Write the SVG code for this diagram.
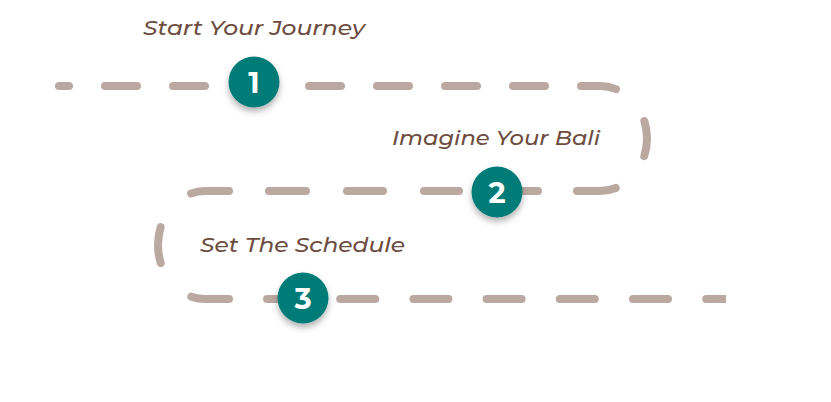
<svg xmlns="http://www.w3.org/2000/svg" width="831" height="402" viewBox="0 0 831 402">
<style>
.path{fill:none;stroke:#BBA9A1;stroke-width:8;stroke-linecap:round}
.lbl{font-family:"Montserrat","Noto Sans","Open Sans",sans-serif;font-style:italic;font-weight:500;font-size:20px;fill:#6E4D41}
.badge{fill:#007B78}
.num{font-family:"Montserrat","Open Sans","Noto Sans",sans-serif;font-weight:700;font-size:29px;fill:#fff;text-anchor:middle}
</style>
<defs>
<filter id="sh" x="-50%" y="-50%" width="200%" height="200%">
<feDropShadow dx="0" dy="4" stdDeviation="3" flood-color="#000" flood-opacity="0.3"/>
</filter>
<clipPath id="cl"><rect x="50" y="0" width="676" height="402"/></clipPath>
</defs>
<g id="connectors" clip-path="url(#cl)">
<path class="path" stroke-dasharray="32 36" stroke-dashoffset="22" d="M59,86 H575"/>
<path class="path" stroke-dasharray="35.4 44 35.6 44 39.4 100" d="M581,86 H600 A47,52.5 0 0 1 600,191 H577"/>
<path class="path" stroke-dasharray="37 42 35 41 36 41 37 40 38.3 46.85 36.54 46.85 38.3 100" d="M538,191 H205 A47,54 0 0 0 205,299 H229"/>
<path class="path" stroke-dasharray="35 38.2" d="M267,299 H745"/>
</g>
<g id="step1">
<text class="lbl" x="143" y="35" textLength="222" lengthAdjust="spacingAndGlyphs">Start Your Journey</text>
<circle class="badge" cx="254" cy="82" r="25.5" filter="url(#sh)"/>
<text class="num" x="254" y="92.5">1</text>
</g>
<g id="step2">
<text class="lbl" x="392" y="145" textLength="208" lengthAdjust="spacingAndGlyphs">Imagine Your Bali</text>
<circle class="badge" cx="497" cy="192" r="25.5" filter="url(#sh)"/>
<text class="num" x="497" y="202.5">2</text>
</g>
<g id="step3">
<text class="lbl" x="200" y="252" textLength="205" lengthAdjust="spacingAndGlyphs">Set The Schedule</text>
<circle class="badge" cx="303" cy="298" r="25.5" filter="url(#sh)"/>
<text class="num" x="303" y="308.5">3</text>
</g>
</svg>
